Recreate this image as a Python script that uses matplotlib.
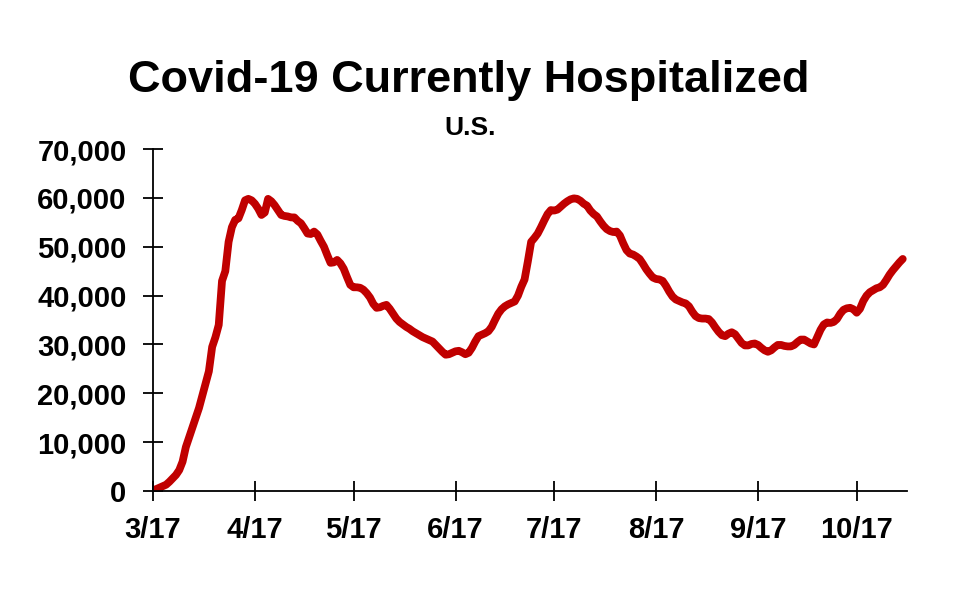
import matplotlib.pyplot as plt
import numpy as np
import pandas as pd
from matplotlib.ticker import FuncFormatter

# === Data: daily currently hospitalized, U.S., from 3/17 ===
start = pd.Timestamp('2020-03-17')
hospitalized = [
    200, 400, 700, 1000, 1300, 1900, 2600, 3300, 4300, 6000,
    9000, 11000, 13000, 15000, 17000, 19500, 22000, 24500, 29500, 31500,
    34000, 43000, 45000, 51000, 54000, 55500, 55800, 57500, 59500, 59800,
    59500, 58800, 57800, 56500, 57000, 59800, 59300, 58500, 57500, 56500,
    56300, 56200, 56000, 56000, 55300, 54800, 53800, 52700, 52600, 53100,
    52500, 51200, 50000, 48300, 46700, 46800, 47300, 46600, 45500, 43800,
    42200, 41700, 41700, 41600, 41200, 40500, 39600, 38300, 37500, 37600,
    37900, 38100, 37300, 36300, 35300, 34600, 34100, 33600, 33200, 32700,
    32300, 31900, 31500, 31200, 30900, 30600, 29900, 29200, 28500, 27900,
    28000, 28300, 28600, 28700, 28400, 28000, 28300, 29300, 30600, 31700,
    32000, 32300, 32700, 33600, 35000, 36300, 37200, 37800, 38200, 38500,
    38800, 40000, 41800, 43300, 47000, 51000, 51800, 52700, 54000, 55400,
    56700, 57500, 57400, 57600, 58200, 58800, 59300, 59700, 59900, 59800,
    59400, 58800, 58400, 57400, 56700, 56200, 55200, 54300, 53600, 53200,
    53000, 53100, 52300, 50700, 49300, 48600, 48400, 48000, 47500, 46500,
    45400, 44500, 43700, 43400, 43300, 43000, 42000, 40800, 39800, 39200,
    38900, 38600, 38400, 37800, 36700, 35800, 35400, 35300, 35300, 35200,
    34500, 33500, 32600, 31900, 31700, 32200, 32500, 32100, 31200, 30300,
    29800, 29800, 30100, 30200, 29900, 29300, 28800, 28500, 28800, 29400,
    29900, 29900, 29700, 29600, 29600, 29900, 30500, 31000, 31000, 30600,
    30200, 30000, 31500, 33000, 34100, 34500, 34400, 34600, 35200, 36300,
    37100, 37400, 37500, 37200, 36500, 37300, 38900, 40000, 40700, 41100,
    41500, 41700, 42200, 43200, 44300, 45200, 46000, 46800, 47500,
]
dates = pd.date_range(start, periods=len(hospitalized), freq='D')
tick_labels = ['3/17', '4/17', '5/17', '6/17', '7/17', '8/17', '9/17', '10/17']
tick_dates = pd.to_datetime(['2020-03-17', '2020-04-17', '2020-05-17', '2020-06-17',
                             '2020-07-17', '2020-08-17', '2020-09-17', '2020-10-17'])

plt.rcParams['font.family'] = ['Liberation Sans', 'DejaVu Sans']

fig = plt.figure(figsize=(9.59, 6.04), dpi=100)
ax = fig.add_axes([0.1595, 0.187, 0.7863, 0.5663])

days = (dates - start).days
ax.plot(days, hospitalized, color='#C00000', linewidth=5.6, solid_capstyle='round',
        solid_joinstyle='round')

ax.set_xlim(0, 229.3)
ax.set_ylim(0, 70000)
ax.set_xticks((tick_dates - start).days)
ax.set_xticklabels(tick_labels)
ax.set_yticks(np.arange(0, 70001, 10000))
ax.yaxis.set_major_formatter(FuncFormatter(lambda v, p: f'{int(v):,}'))

for side in ['top', 'right']:
    ax.spines[side].set_visible(False)
for side in ['left', 'bottom']:
    ax.spines[side].set_linewidth(1.3)
    ax.spines[side].set_color('black')
ax.tick_params(direction='inout', length=14, width=1.3, labelsize=21)
ax.tick_params(axis='y', pad=12)
ax.tick_params(axis='x', pad=11)
for lab in ax.get_xticklabels() + ax.get_yticklabels():
    lab.set_fontweight('bold')

fig.text(0.489, 0.867, 'Covid-19 Currently Hospitalized', ha='center', va='center',
         fontsize=32.5, fontweight='bold')
fig.text(0.490, 0.788, 'U.S.', ha='center', va='center', fontsize=19, fontweight='bold')

plt.savefig('out.png', dpi=100)
